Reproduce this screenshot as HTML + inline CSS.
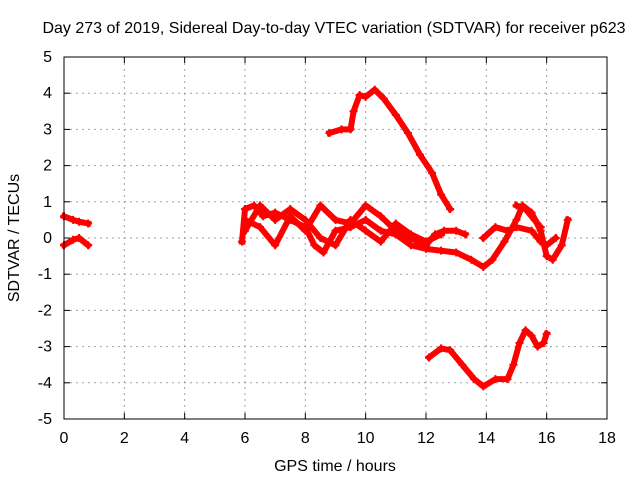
<!DOCTYPE html>
<html><head><meta charset="utf-8">
<style>
body{margin:0;background:#fff;}
svg text{font-family:"Liberation Sans",sans-serif;font-size:16px;fill:#000;}
</style></head>
<body>
<svg id="chart" width="640" height="480">
<text x="334" y="33" text-anchor="middle">Day 273 of 2019, Sidereal Day-to-day VTEC variation (SDTVAR) for receiver p623</text>
<text x="335" y="471" text-anchor="middle">GPS time / hours</text>
<text transform="translate(19,238) rotate(-90)" text-anchor="middle">SDTVAR / TECUs</text>
<g id="grid"></g>
<g id="series"></g>
<rect x="64" y="57" width="543" height="362" fill="none" stroke="#000" stroke-width="1"/>
<g id="ticks"></g>
</svg>
<script>
const xTicks=[0,2,4,6,8,10,12,14,16,18];
const yTicks=[-5,-4,-3,-2,-1,0,1,2,3,4,5];
const trackTopX=[8.8,9.2,9.5,9.6,9.8,10.0,10.3,10.6,11.0,11.4,11.8,12.2,12.5,12.8];
const trackTopY=[2.9,3.0,3.0,3.5,3.95,3.9,4.1,3.85,3.4,2.9,2.3,1.8,1.2,0.8];
const trackBotX=[12.1,12.5,12.8,13.2,13.6,13.9,14.3,14.7,14.9,15.1,15.3,15.5,15.7,15.9,16.0];
const trackBotY=[-3.3,-3.05,-3.1,-3.5,-3.9,-4.1,-3.9,-3.9,-3.5,-2.9,-2.55,-2.7,-3.0,-2.9,-2.65];
const trackL1X=[0,0.3,0.5,0.8];
const trackL1Y=[0.6,0.5,0.45,0.4];
const trackL2X=[0,0.3,0.5,0.8];
const trackL2Y=[-0.2,-0.05,0.0,-0.2];
const trackDX=[5.9,6.0,6.3,6.6,7.0,7.5,8.0,8.3,8.6,9.0,9.5,10.0,10.5,11.0,11.5,12.0,12.5,13.0,13.5,13.9,14.2,14.6,15.0,15.2,15.5,15.8,16.0,16.2,16.5,16.7];
const trackDY=[-0.1,0.8,0.9,0.6,0.7,0.5,0.3,-0.2,-0.4,0.2,0.3,0.5,0.2,0.1,-0.2,-0.3,-0.35,-0.4,-0.6,-0.8,-0.6,-0.1,0.5,0.9,0.7,0.2,-0.5,-0.6,-0.2,0.5];
const trackEX=[6.0,6.5,7.0,7.5,8.0,8.5,9.0,9.5,10.0,10.5,11.0,11.5,12.0,12.3,12.6,13.0,13.3];
const trackEY=[0.5,0.3,-0.2,0.6,0.2,0.9,0.5,0.4,0.9,0.6,0.2,0.0,-0.2,0.1,0.2,0.2,0.1];
const trackFX=[6.0,6.5,7.0,7.5,8.0,8.5,9.0,9.5,10.0,10.5,11.0,11.5,12.0,12.5];
const trackFY=[0.2,0.9,0.5,0.8,0.5,0.0,-0.2,0.5,0.2,-0.1,0.4,0.1,-0.1,0.1];
const trackGX=[13.9,14.3,14.7,15.0,15.5,15.8,16.0,16.3];
const trackGY=[0.0,0.3,0.2,0.3,0.2,-0.1,-0.2,0.0];
const trackHX=[15.0,15.3,15.6,15.8];
const trackHY=[0.9,0.8,0.5,0.3];

const X=h=>64+h*(543/18);
const Y=v=>238-v*36.2;
const NS="http://www.w3.org/2000/svg";
const grid=document.getElementById('grid'),ticks=document.getElementById('ticks'),ser=document.getElementById('series');
function mk(tag,attrs,parent){const e=document.createElementNS(NS,tag);for(const k in attrs)e.setAttribute(k,attrs[k]);parent.appendChild(e);return e;}
xTicks.forEach(t=>{
  if(t>0&&t<18){const g=mk('line',{x1:X(t),x2:X(t),y1:57,y2:419,stroke:'#a0a0a0','stroke-dasharray':'2,4'},grid);
  
  }
  mk('line',{x1:X(t),x2:X(t),y1:419,y2:413,stroke:'#000'},ticks);
  mk('line',{x1:X(t),x2:X(t),y1:57,y2:63,stroke:'#000'},ticks);
  const l=mk('text',{x:X(t),y:443,'text-anchor':'middle'},ticks);l.textContent=t;
  
  
});
yTicks.forEach(t=>{
  if(t>-5&&t<5){const g=mk('line',{x1:64,x2:607,y1:Y(t),y2:Y(t),stroke:'#a0a0a0','stroke-dasharray':'2,4'},grid);
  
  }
  mk('line',{x1:64,x2:70,y1:Y(t),y2:Y(t),stroke:'#000'},ticks);
  mk('line',{x1:601,x2:607,y1:Y(t),y2:Y(t),stroke:'#000'},ticks);
  const l=mk('text',{x:52,y:Y(t)+5,'text-anchor':'end'},ticks);l.textContent=t;
  
  
});
const tracks=[[trackTopX,trackTopY],[trackBotX,trackBotY],[trackL1X,trackL1Y],[trackL2X,trackL2Y],[trackDX,trackDY],[trackEX,trackEY],[trackFX,trackFY],[trackGX,trackGY],[trackHX,trackHY]];
tracks.forEach(([xs,ys])=>{
  const pts=xs.map((x,i)=>X(x)+','+Y(ys[i])).join(' ');
  const p=mk('polyline',{points:pts,fill:'none',stroke:'#ff0000','stroke-width':6,'stroke-linejoin':'round','stroke-linecap':'square'},ser);
  
  
  xs.forEach((x,i)=>{
    const m=mk('path',{d:`M${X(x)-4},${Y(ys[i])}h8M${X(x)},${Y(ys[i])-4}v8`,stroke:'#ff0000','stroke-width':2},ser);
    
    
  });
});
</script>
</body></html>
